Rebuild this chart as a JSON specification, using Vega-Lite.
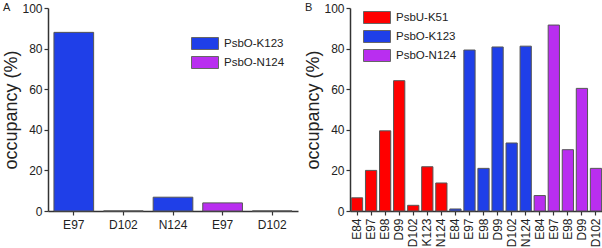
{
  "$schema": "https://vega.github.io/schema/vega-lite/v6.json",
  "padding": {"left": 2, "top": 2, "right": 0, "bottom": 0},
  "spacing": 6,
  "background": "white",
  "config": {
    "font": "Liberation Sans",
    "view": {"stroke": null},
    "axis": {
      "domainColor": "#333333",
      "domainWidth": 1.5,
      "tickColor": "#333333",
      "tickWidth": 1.2,
      "tickSize": 4,
      "labelFont": "Liberation Sans",
      "labelFontSize": 12,
      "labelColor": "#222222",
      "titleFont": "Liberation Sans",
      "titleFontWeight": "normal",
      "titleColor": "#222222",
      "grid": false
    },
    "legend": {
      "labelFont": "Liberation Sans",
      "labelFontSize": 11.5,
      "labelColor": "#222222",
      "symbolType": "M-1,-1H3.5V1H-1Z",
      "symbolSize": 144,
      "symbolStrokeColor": "#666666",
      "symbolStrokeWidth": 1,
      "symbolOpacity": 1,
      "labelOffset": 20,
      "rowPadding": 2,
      "title": null
    },
    "title": {"font": "Liberation Sans", "fontSize": 11, "fontWeight": "normal", "color": "#222222"}
  },
  "datasets": {
    "a": [
      {"key": "1:E97", "group": "PsbO-K123", "value": 88},
      {"key": "2:D102", "group": "PsbO-K123", "value": 0},
      {"key": "3:N124", "group": "PsbO-K123", "value": 6.8},
      {"key": "4:E97", "group": "PsbO-N124", "value": 4},
      {"key": "5:D102", "group": "PsbO-N124", "value": 0}
    ],
    "b": [
      {"key": "01:E84", "group": "PsbU-K51", "value": 6.5},
      {"key": "02:E97", "group": "PsbU-K51", "value": 20},
      {"key": "03:E98", "group": "PsbU-K51", "value": 39.5},
      {"key": "04:D99", "group": "PsbU-K51", "value": 64.2},
      {"key": "05:D102", "group": "PsbU-K51", "value": 2.8},
      {"key": "06:K123", "group": "PsbU-K51", "value": 21.8},
      {"key": "07:N124", "group": "PsbU-K51", "value": 13.8},
      {"key": "08:E84", "group": "PsbO-K123", "value": 1},
      {"key": "09:E97", "group": "PsbO-K123", "value": 79.3},
      {"key": "10:E98", "group": "PsbO-K123", "value": 21},
      {"key": "11:D99", "group": "PsbO-K123", "value": 80.8},
      {"key": "12:D102", "group": "PsbO-K123", "value": 33.5},
      {"key": "13:N124", "group": "PsbO-K123", "value": 81.2},
      {"key": "14:E84", "group": "PsbO-N124", "value": 7.6},
      {"key": "15:E97", "group": "PsbO-N124", "value": 91.6},
      {"key": "16:E98", "group": "PsbO-N124", "value": 30.2},
      {"key": "17:D99", "group": "PsbO-N124", "value": 60.4},
      {"key": "18:D102", "group": "PsbO-N124", "value": 21}
    ]
  },
  "resolve": {"scale": {"color": "independent"}, "legend": {"color": "independent"}},
  "hconcat": [
    {
      "data": {"name": "a"},
      "width": 250,
      "height": 203,
      "title": {"text": "A", "anchor": "start", "frame": "bounds", "offset": -17, "baseline": "top", "dy": -6},
      "mark": {"type": "bar", "stroke": "#555555", "strokeWidth": 1},
      "encoding": {
        "x": {
          "field": "key", "type": "nominal", "sort": null,
          "scale": {"paddingInner": 0.2, "paddingOuter": 0.12},
          "axis": {"title": null, "labelAngle": 0, "labelExpr": "split(datum.value, ':')[1]", "labelPadding": 4}
        },
        "y": {
          "field": "value", "type": "quantitative",
          "scale": {"domain": [0, 100], "nice": false},
          "axis": {"title": "occupancy (%)", "titleFontSize": 18, "values": [0, 20, 40, 60, 80, 100], "titlePadding": 1, "labelPadding": 2}
        },
        "color": {
          "field": "group", "type": "nominal",
          "scale": {"domain": ["PsbO-K123", "PsbO-N124"], "range": ["#1f3fe8", "#b92ef0"]},
          "legend": {"orient": "none", "legendX": 143, "legendY": 29}
        }
      }
    },
    {
      "data": {"name": "b"},
      "width": 253,
      "height": 203,
      "title": {"text": "B", "anchor": "start", "frame": "bounds", "offset": -17, "baseline": "top", "dy": -6},
      "mark": {"type": "bar", "stroke": "#555555", "strokeWidth": 1},
      "encoding": {
        "x": {
          "field": "key", "type": "nominal", "sort": null,
          "scale": {"paddingInner": 0.2, "paddingOuter": 0.1},
          "axis": {"title": null, "labelAngle": -90, "labelExpr": "split(datum.value, ':')[1]", "labelPadding": 3}
        },
        "y": {
          "field": "value", "type": "quantitative",
          "scale": {"domain": [0, 100], "nice": false},
          "axis": {"title": "occupancy (%)", "titleFontSize": 18, "values": [0, 20, 40, 60, 80, 100], "titlePadding": 1, "labelPadding": 2}
        },
        "color": {
          "field": "group", "type": "nominal",
          "scale": {"domain": ["PsbU-K51", "PsbO-K123", "PsbO-N124"], "range": ["#ff0000", "#1f3fe8", "#b92ef0"]},
          "legend": {"orient": "none", "legendX": 13, "legendY": 3}
        }
      }
    }
  ]
}
